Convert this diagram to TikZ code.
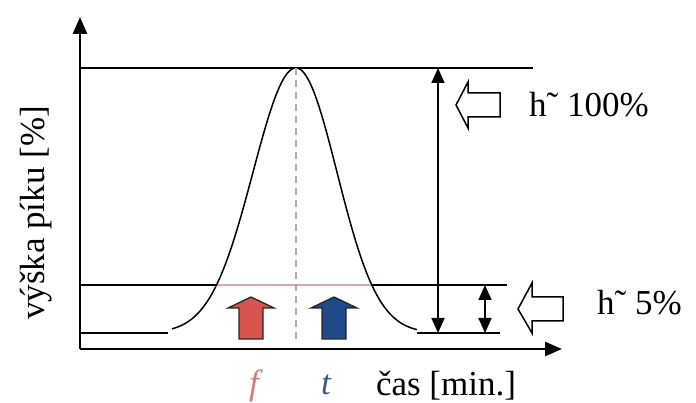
\documentclass[tikz,border=0pt]{standalone}
\usepackage{fontspec}
\setmainfont{Liberation Serif}
\usepackage{xcolor}
\usetikzlibrary{positioning,arrows.meta}

\definecolor{fred}{HTML}{D8534C}
\definecolor{fblue}{HTML}{1E4A8C}
\definecolor{lblred}{HTML}{D27A78}
\definecolor{lblblue}{HTML}{3C5A86}
\definecolor{pinkline}{HTML}{E0A8A8}

\begin{document}
\begin{tikzpicture}[x=1pt, y=1pt,
        axis/.style={line width=2.6pt, -{Triangle[length=17pt,width=14pt]}},
        ln/.style={line width=1.8pt},
        dim/.style={line width=1.7pt,
                    {Triangle[length=15pt,width=13pt]}-{Triangle[length=15pt,width=13pt]}},
        hollow/.style={draw, line width=1.5pt, fill=white},
        block/.style={draw=black!85, line width=1.3pt},
        lbl/.style={font=\fontsize{35}{40}\selectfont, inner sep=0pt}
    ]
        \useasboundingbox (0,0) rectangle (696,403);

        % axes
        \coordinate (O)    at (80,54);
        \coordinate (ytip) at (80,386);
        \coordinate (xtip) at (562,54);
        \draw[axis] (O) -- (ytip);
        \draw[axis] (O) -- (xtip);

        % level lines
        \coordinate (top0)  at (80,335);
        \coordinate (top1)  at (533,335);
        \coordinate (mid0)  at (80,118);
        \coordinate (mid1)  at (507,118);
        \coordinate (base0) at (80,70);
        \coordinate (base1) at (168,70);
        \coordinate (base2) at (417,70);
        \coordinate (base3) at (500,70);
        \draw[ln] (top0) -- (top1);
        \draw[ln] (mid0) -- (mid1);
        \draw[ln, pinkline] (216,118) -- (372,118);
        \draw[ln] (base0) -- (base1);
        \draw[ln] (base2) -- (base3);

        % peak
        \coordinate (peak) at (296,335);
        \coordinate (pfoot) at (296,63);
        \draw[line width=1.5pt] plot[domain=172:296, samples=80, smooth]
            (\x,{70+265*exp(-0.5*((\x-296)/43)^2)});
        \draw[line width=1.5pt] plot[domain=296:417, samples=80, smooth]
            (\x,{70+265*exp(-0.5*((\x-296)/41)^2)});
        \draw[gray!65, line width=1.8pt, dash pattern=on 7pt off 5pt] (peak) -- (pfoot);

        % front / tail arrows
        \foreach \cx/\col in {251/fred, 334/fblue}
            \draw[block, fill=\col] (\cx-12,64) -- (\cx-12,95) -- (\cx-23,95)
                -- (\cx,106) -- (\cx+23,95) -- (\cx+12,95) -- (\cx+12,64) -- cycle;

        % heights
        \coordinate (h100a) at (438,335);
        \coordinate (h100b) at (438,70);
        \coordinate (h5a)   at (485,118);
        \coordinate (h5b)   at (485,70);
        \draw[dim] (h100a) -- (h100b);
        \draw[dim] (h5a) -- (h5b);

        \draw[hollow] (456,298) -- (468,321) -- (468,310) -- (500,310)
            -- (500,286) -- (468,286) -- (468,275) -- cycle;
        \draw[hollow] (518,94) -- (532,120) -- (532,106) -- (563,106)
            -- (563,82) -- (532,82) -- (532,70) -- cycle;

        % labels
        \node[lbl, anchor=base west] (l100) at (529,286) {h˜ 100\%};
        \node[lbl, anchor=base west] (l5)   at (597,88)  {h˜ 5\%};
        \node[lbl, rotate=90] (ylab) at (36,190) {výška píku [\%]};
        \node[lbl, anchor=base] (xlab) at (446,7) {čas [min.]};
        \node[lbl, anchor=base, text=lblred, font=\fontsize{35}{40}\selectfont\itshape] (f) at (254,8) {f};
        \node[lbl, anchor=base, text=lblblue, font=\fontsize{35}{40}\selectfont\itshape] (t) at (326,8) {t};
    \end{tikzpicture}
\end{document}
